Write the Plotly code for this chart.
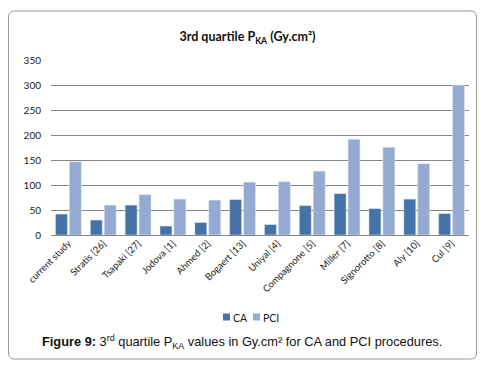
import plotly.graph_objects as go

categories = ["current study", "Stratis [26]", "Tsapaki [27]", "Jodova [1]", "Ahmed [2]",
              "Bogaert [13]", "Uniyal [4]", "Compagnone [5]", "Miller [7]", "Signorotto [8]",
              "Aly [10]", "Cul [9]"]
ca_values = [42, 30, 60, 18, 25, 71, 21, 59, 83, 53, 72, 43]
pci_values = [147, 60, 81, 72, 70, 106, 107, 128, 192, 176, 143, 300]
y_ticks = [0, 50, 100, 150, 200, 250, 300, 350]
series_names = ["CA", "PCI"]
series_colors = ["#4572A7", "#95AAD2"]

W, H = 488, 367
L, R, T, B = 51, 19, 60, 132
pw = W - L - R
ph = H - T - B

def px2x(px):
    return (px - L) / pw

def py2y(py):
    return (H - B - py) / ph

fig = go.Figure()
fig.add_trace(go.Bar(name=series_names[0], x=categories, y=ca_values,
                     marker_color=series_colors[0], showlegend=False))
fig.add_trace(go.Bar(name=series_names[1], x=categories, y=pci_values,
                     marker_color=series_colors[1], showlegend=False))

# frame (rounded rectangle)
x0, x1, y0, y1 = px2x(8.5), px2x(476.5), py2y(11), py2y(359)
rx, ry = 6 / pw, 6 / ph
path = (f"M {x0+rx} {y0} L {x1-rx} {y0} Q {x1} {y0} {x1} {y0-ry} "
        f"L {x1} {y1+ry} Q {x1} {y1} {x1-rx} {y1} L {x0+rx} {y1} "
        f"Q {x0} {y1} {x0} {y1+ry} L {x0} {y0-ry} Q {x0} {y0} {x0+rx} {y0} Z")

shapes = [dict(type="path", xref="paper", yref="paper", path=path,
               line=dict(color="#9a9a9a", width=1), layer="above")]

# manual legend
legend_x = [223, 253]
annotations = []
for name, color, lx in zip(series_names, series_colors, legend_x):
    shapes.append(dict(type="rect", xref="paper", yref="paper",
                       x0=px2x(lx), x1=px2x(lx + 7), y0=py2y(313.5), y1=py2y(320.5),
                       fillcolor=color, line=dict(width=0), layer="above"))
    annotations.append(dict(text=name, x=px2x(lx + 8), y=py2y(317.5), xref="paper", yref="paper",
                            xanchor="left", yanchor="middle", showarrow=False,
                            font=dict(size=10.5, color="#1a1a1a")))

annotations.append(dict(text="<b>Figure 9:</b> 3<sup>rd</sup> quartile P<sub>KA</sub> values in Gy.cm² for CA and PCI procedures.",
                        x=px2x(242), y=py2y(342), xref="paper", yref="paper",
                        xanchor="center", yanchor="middle", showarrow=False,
                        font=dict(family="Liberation Sans, Arial", size=12.8, color="#111111")))

fig.update_layout(
    width=W, height=H,
    margin=dict(l=L, r=R, t=T, b=B),
    paper_bgcolor="white", plot_bgcolor="white",
    barmode="group", bargap=0.2, bargroupgap=0.14,
    font=dict(family="Lato, Carlito, Arial", size=10, color="#1a1a1a"),
    title=dict(text="<b>3rd quartile P<sub>KA</sub> (Gy.cm²)</b>",
               x=247.5 / W, xanchor="center", y=1 - 37 / H, yanchor="middle",
               font=dict(size=12.5, color="#111111")),
    xaxis=dict(tickangle=-45, showgrid=False, showline=False, ticks="",
               tickfont=dict(size=9.5, color="#1a1a1a")),
    yaxis=dict(range=[0, 351], tickvals=y_ticks, showgrid=True, gridcolor="#868686",
               gridwidth=1, zeroline=True, zerolinecolor="#868686", zerolinewidth=1,
               showline=False, ticks="", ticklabelstandoff=9,
               tickfont=dict(size=10, color="#1a1a1a")),
    showlegend=False,
    shapes=shapes,
    annotations=annotations,
)

fig.write_html("out.html", config={"displayModeBar": False},
               post_script="document.body.style.margin='0';")
